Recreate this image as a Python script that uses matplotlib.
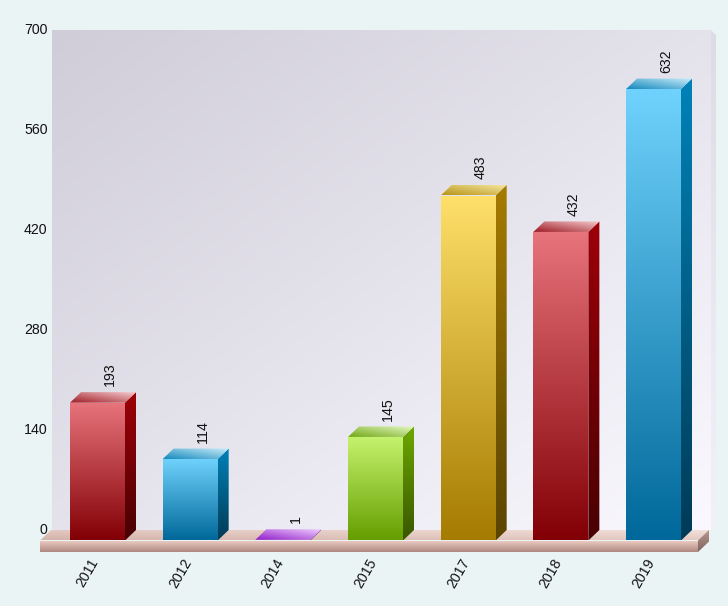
import matplotlib
matplotlib.use('Agg')
import matplotlib.pyplot as plt
import numpy as np
from matplotlib.colors import LinearSegmentedColormap
from matplotlib.patches import Polygon, Rectangle
from matplotlib.transforms import ScaledTranslation

plt.rcParams['font.family'] = 'Liberation Sans'

years = ['2011', '2012', '2014', '2015', '2017', '2018', '2019']
counts = [193, 114, 1, 145, 483, 432, 632]
y_ticks = [0, 140, 280, 420, 560, 700]

RED = {'front': ('#E8747C', '#820005'), 'side': ('#9E0008', '#480003'), 'top': ('#9E1822', '#F6CCCF')}
BLUE = {'front': ('#70D3FD', '#00689A'), 'side': ('#0082B8', '#003A56'), 'top': ('#1488BC', '#CCEFFC')}
PURPLE = {'front': ('#B040E0', '#8A18C0'), 'side': ('#7A10A8', '#5A0880'), 'top': ('#8E1CC8', '#F0CCFF')}
GREEN = {'front': ('#C6F36E', '#659E00'), 'side': ('#6DA900', '#395600'), 'top': ('#70A814', '#E6F9C4')}
YELLOW = {'front': ('#FFE06A', '#A57B00'), 'side': ('#A57B00', '#5A4400'), 'top': ('#B89414', '#F9EAA8')}
bar_styles = [RED, BLUE, PURPLE, GREEN, YELLOW, RED, BLUE]

W, H = 728, 609
BG = '#EAF4F5'
TEXT = '#111111'
FONT_SIZE = 10.2


def px_axes(fig, left, top, right, bottom):
    return fig.add_axes([left / W, 1 - bottom / H, (right - left) / W, (bottom - top) / H])


def grad_poly(ax, pts, c0, c1, mode='vertical'):
    # fill a polygon with a linear gradient, image clipped by the polygon
    fig = ax.figure
    pts = np.array(pts, dtype=float)
    cmap = LinearSegmentedColormap.from_list('g', [c0, c1])
    ramp = np.linspace(0, 1, 256)
    if mode == 'vertical':
        ramp = ramp[:, None]
    elif mode == 'horizontal':
        ramp = ramp[None, :]
    else:
        # lower left to upper right
        ramp = (ramp[None, :] + ramp[::-1, None]) / 2
    extent = [pts[:, 0].min(), pts[:, 0].max(), pts[:, 1].min(), pts[:, 1].max()]
    if extent[3] - extent[2] <= 0:
        return
    im = ax.imshow(ramp, cmap=cmap, extent=extent, origin='upper', aspect='auto',
                   interpolation='bilinear', zorder=2, vmin=0, vmax=1)
    patch = Polygon(pts, closed=True, fc='none', ec='none', transform=ax.transData, clip_on=False)
    ax.add_patch(patch)
    im.set_clip_box(fig.bbox)
    im.set_clip_path(patch)


fig = plt.figure(figsize=(W / 100, H / 100), dpi=100, facecolor=BG)
fig.patches.append(Rectangle((0, 0), 1, 3 / H, transform=fig.transFigure, fc='white', ec='none'))

# back wall
wall = px_axes(fig, 52, 30, 711, 530)
wall.set_ylim(0, 700)
wall.set_xlim(0, 1)
grid_x, grid_y = np.meshgrid(np.linspace(0, 1, 200), np.linspace(0, 1, 200))
wall_cmap = LinearSegmentedColormap.from_list('wall', ['#D0CDD9', '#E4E2EB', '#FBF9FF'])
wall.imshow((grid_x + grid_y) / 2, cmap=wall_cmap, extent=[0, 1, 0, 700], origin='upper', aspect='auto')
wall.set_xticks([])
wall.set_yticks(y_ticks)
wall.tick_params(axis='y', length=0, pad=3.2, labelsize=FONT_SIZE, labelcolor=TEXT)
shift_up = ScaledTranslation(0, 1.2 / 100, fig.dpi_scale_trans)
for lab in wall.get_yticklabels():
    lab.set_transform(lab.get_transform() + shift_up)
for s in wall.spines.values():
    s.set_visible(False)
edge_w = 5 / 659
edge_h = 5 / 500 * 700
grad_poly(wall, [(1, 700), (1 + edge_w, 700 - edge_h), (1 + edge_w, 4), (1, 0)], '#DDDBE5', '#F3F1F8')
wall.set_xlim(0, 1)
wall.set_ylim(0, 700)

# front plane, bars sit here
ax = px_axes(fig, 40, 40.5, 698, 540.5)
ax.patch.set_alpha(0)
x_step = 92.67
ax.set_xlim((40 - 97.5) / x_step, (698 - 97.5) / x_step)
ax.set_ylim(0, 700)
xmin, xmax = ax.get_xlim()
depth_x = 11 / x_step
depth_y = 10.5 / (500 / 700)
half = 27.5 / x_step
floor_h = 11.5 / (500 / 700)

grad_poly(ax, [(xmin, 0), (xmax, 0), (xmax + depth_x, depth_y), (xmin + depth_x, depth_y)],
          '#D4B2A9', '#F3E2DC', mode='diagonal')
grad_poly(ax, [(xmin, 0), (xmax, 0), (xmax, -floor_h), (xmin, -floor_h)], '#EFCFC6', '#AE8880')
grad_poly(ax, [(xmax, 0), (xmax + depth_x, depth_y), (xmax + depth_x, depth_y - floor_h), (xmax, -floor_h)],
          '#B8958C', '#806460')

for i, value in enumerate(counts):
    st = bar_styles[i]
    left, right = i - half, i + half
    grad_poly(ax, [(left, 0), (right, 0), (right, value), (left, value)], *st['front'])
    grad_poly(ax, [(right, 0), (right + depth_x, depth_y), (right + depth_x, value + depth_y), (right, value)],
              *st['side'])
    grad_poly(ax, [(left, value), (right, value), (right + depth_x, value + depth_y), (left + depth_x, value + depth_y)],
              *st['top'], mode='diagonal')
    ax.annotate(str(value), (i + depth_x, value + depth_y), xytext=(1.2, 4.2), textcoords='offset points',
                rotation=90, ha='center', va='bottom', fontsize=FONT_SIZE, color=TEXT, annotation_clip=False)

ax.set_xticks(range(len(years)))
ax.set_xticklabels(years, rotation=60, ha='center', va='top', fontsize=FONT_SIZE, color=TEXT)
ax.tick_params(axis='x', length=0, pad=11.5)
shift = ScaledTranslation(-10 / 100, 0, fig.dpi_scale_trans)
for lab in ax.get_xticklabels():
    lab.set_transform(lab.get_transform() + shift)
ax.set_yticks([])
for s in ax.spines.values():
    s.set_visible(False)
ax.set_xlim(xmin, xmax)
ax.set_ylim(0, 700)

fig.savefig('out.png', dpi=100, facecolor=BG)
